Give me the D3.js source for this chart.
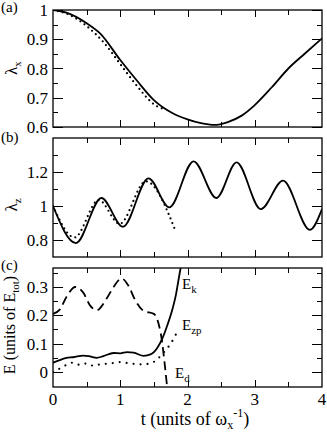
<!DOCTYPE html>
<html>
<head>
<meta charset="utf-8">
<script src="https://cdn.jsdelivr.net/npm/d3@7"></script>
<style>
  body { margin: 0; background: #fff; }
  svg { display: block; font-family: "Liberation Serif", "Times New Roman", serif; }
</style>
</head>
<body>
<svg id="chart" width="327" height="434"></svg>
<script>
// panel (a): lambda_x
const tLxSolid = [0, 0.2, 0.5, 0.7, 1.0, 1.25, 1.5, 1.78, 2.0, 2.2, 2.4, 2.6, 2.8, 3.0, 3.25, 3.5, 3.75, 4.0];
const lxSolid = [1.0, 0.991, 0.955, 0.92, 0.829, 0.758, 0.692, 0.647, 0.626, 0.613, 0.607, 0.617, 0.638, 0.675, 0.735, 0.8, 0.852, 0.903];
const tLxDot = [0, 0.25, 0.5, 0.75, 1.0, 1.25, 1.5, 1.6, 1.68];
const lxDot = [1.0, 0.983, 0.945, 0.89, 0.815, 0.74, 0.678, 0.665, 0.662];

// panel (b): lambda_z
const tLzSolid = [0, 0.34, 0.72, 1.04, 1.42, 1.73, 2.09, 2.43, 2.73, 3.09, 3.42, 3.82, 4.0];
const lzSolid = [1.0, 0.782, 1.047, 0.878, 1.163, 0.992, 1.263, 1.047, 1.257, 0.982, 1.149, 0.86, 0.982];
const tLzDot = [0, 0.32, 0.68, 0.99, 1.38, 1.82];
const lzDot = [1.0, 0.815, 1.035, 0.895, 1.145, 0.855];

// panel (c): energies
const tEk = [0, 0.1, 0.2, 0.3, 0.45, 0.55, 0.65, 0.75, 0.9, 1.0, 1.1, 1.2, 1.35, 1.45, 1.55, 1.62, 1.7, 1.78, 1.83, 1.87, 1.9];
const eK = [0.033, 0.042, 0.05, 0.052, 0.058, 0.055, 0.05, 0.056, 0.067, 0.066, 0.07, 0.068, 0.057, 0.062, 0.085, 0.115, 0.165, 0.225, 0.275, 0.33, 0.37];
const tEd = [0, 0.1, 0.2, 0.33, 0.45, 0.55, 0.65, 0.8, 0.9, 1.02, 1.12, 1.22, 1.35, 1.5, 1.57, 1.62, 1.66, 1.7];
const eD = [0.205, 0.22, 0.265, 0.3, 0.28, 0.235, 0.218, 0.26, 0.3, 0.33, 0.305, 0.255, 0.215, 0.205, 0.17, 0.11, 0.03, -0.06];
const tEzp = [0, 0.1, 0.2, 0.3, 0.4, 0.5, 0.6, 0.7, 0.85, 1.0, 1.15, 1.3, 1.45, 1.55, 1.65, 1.75, 1.86];
const eZp = [0.0, 0.012, 0.025, 0.033, 0.025, 0.03, 0.022, 0.027, 0.03, 0.035, 0.03, 0.027, 0.03, 0.045, 0.07, 0.1, 0.148];

// tick labels
const xTicks = [0, 1, 2, 3, 4];
const lxTicks = [0.6, 0.7, 0.8, 0.9, 1];
const lzTicks = [0.8, 1, 1.2];
const eTicks = [0, 0.1, 0.2, 0.3];

const svg = d3.select('#chart');
const margin = { left: 53, right: 322 };
const x = d3.scaleLinear().domain([0, 4]).range([margin.left, margin.right]);
const pts = (ts, vs) => ts.map((t, i) => [t, vs[i]]);

const panels = [
  { id: 'a', label: '(a)', top: 10, bottom: 127, domain: [0.6, 1], major: lxTicks, minor: d3.range(0.65, 1, 0.1),
    fmt: d => (d === 1 ? '1' : d3.format('.1f')(d)), labelY: 12 },
  { id: 'b', label: '(b)', top: 138, bottom: 257, domain: [0.7, 1.4], major: lzTicks, minor: [0.9, 1.1, 1.3],
    fmt: d => (d === 1 ? '1' : d3.format('.1f')(d)), labelY: 142 },
  { id: 'c', label: '(c)', top: 268, bottom: 387, domain: [-0.053, 0.367], major: eTicks, minor: [0.05, 0.15, 0.25, 0.35],
    fmt: d => (d === 0 ? '0' : d3.format('.1f')(d)), labelY: 270 },
];

panels.forEach((p) => {
  p.y = d3.scaleLinear().domain(p.domain).range([p.bottom, p.top]);
  const g = svg.append('g').attr('class', `panel-${p.id}`);

  g.append('clipPath').attr('id', `clip-${p.id}`)
    .append('rect').attr('x', margin.left).attr('y', p.top)
    .attr('width', margin.right - margin.left).attr('height', p.bottom - p.top);

  // frame
  g.append('rect')
    .attr('x', margin.left).attr('y', p.top)
    .attr('width', margin.right - margin.left).attr('height', p.bottom - p.top)
    .attr('fill', 'none').attr('stroke', '#000').attr('stroke-width', 1.3);

  // y ticks (inward, both sides)
  const ty = (vals, len) => vals.forEach((v) => {
    const yy = Math.round(p.y(v)) + 0.5;
    g.append('line').attr('x1', margin.left).attr('x2', margin.left + len).attr('y1', yy).attr('y2', yy)
      .attr('stroke', '#000').attr('stroke-width', 1);
    g.append('line').attr('x1', margin.right).attr('x2', margin.right - len).attr('y1', yy).attr('y2', yy)
      .attr('stroke', '#000').attr('stroke-width', 1);
  });
  ty(p.major, 10);
  ty(p.minor, 5);

  // x ticks (inward, top and bottom)
  const tx = (vals, len) => vals.forEach((v) => {
    const xx = Math.round(x(v)) + 0.5;
    g.append('line').attr('x1', xx).attr('x2', xx).attr('y1', p.bottom).attr('y2', p.bottom - len)
      .attr('stroke', '#000').attr('stroke-width', 1);
    g.append('line').attr('x1', xx).attr('x2', xx).attr('y1', p.top).attr('y2', p.top + len)
      .attr('stroke', '#000').attr('stroke-width', 1);
  });
  tx([1, 2, 3], 7);
  tx([0.5, 1.5, 2.5, 3.5], 5);

  // y tick labels
  g.selectAll('text.ytick').data(p.major).enter().append('text')
    .attr('class', 'ytick')
    .attr('x', margin.left - 5).attr('y', d => p.y(d) + 6)
    .attr('text-anchor', 'end').attr('font-size', 17)
    .text(p.fmt);

  // panel label
  g.append('text').attr('x', 1).attr('y', p.labelY).attr('font-size', 15).text(p.label);
});

const [pa, pb, pc] = panels;

const drawLine = (p, data, style) => {
  const line = d3.line().x(d => x(d[0])).y(d => p.y(d[1])).curve(d3.curveMonotoneX);
  const path = svg.append('path')
    .attr('clip-path', `url(#clip-${p.id})`)
    .attr('d', line(data))
    .attr('fill', 'none').attr('stroke', '#000');
  if (style === 'solid') path.attr('stroke-width', 1.8);
  if (style === 'dot') path.attr('stroke-width', 2.2).attr('stroke-linecap', 'round').attr('stroke-dasharray', '0 5');
  if (style === 'dotwide') path.attr('stroke-width', 2.2).attr('stroke-linecap', 'round').attr('stroke-dasharray', '0 7');
  if (style === 'dash') path.attr('stroke-width', 1.8).attr('stroke-dasharray', '9 5');
  return path;
};

drawLine(pa, pts(tLxSolid, lxSolid), 'solid');
drawLine(pa, pts(tLxDot, lxDot), 'dot');
drawLine(pb, pts(tLzSolid, lzSolid), 'solid');
drawLine(pb, pts(tLzDot, lzDot), 'dot');
drawLine(pc, pts(tEk, eK), 'solid');
drawLine(pc, pts(tEd, eD), 'dash');
drawLine(pc, pts(tEzp, eZp), 'dotwide');

// x tick labels under panel (c)
svg.selectAll('text.xtick').data(xTicks).enter().append('text')
  .attr('class', 'xtick')
  .attr('x', d => x(d)).attr('y', 405)
  .attr('text-anchor', 'middle').attr('font-size', 17)
  .text(d => d);

// curve labels
const subLabel = (xx, yy, sub) => {
  const t = svg.append('text').attr('x', xx).attr('y', yy).attr('font-size', 15);
  t.append('tspan').text('E');
  t.append('tspan').attr('dy', 4).attr('font-size', 11).text(sub);
};
subLabel(182, 289, 'k');
subLabel(182, 330, 'zp');
subLabel(175, 378, 'd');

// axis titles
const yTitle = (cy, build) => {
  const t = svg.append('text').attr('transform', `translate(17,${cy}) rotate(-90)`)
    .attr('text-anchor', 'middle').attr('font-size', 17);
  build(t);
};
yTitle(68, (t) => {
  t.append('tspan').text('λ');
  t.append('tspan').attr('dy', 4).attr('font-size', 11).text('x');
});
yTitle(205, (t) => {
  t.append('tspan').text('λ');
  t.append('tspan').attr('dy', 4).attr('font-size', 11).text('z');
});
const eTitle = svg.append('text').attr('transform', 'translate(15,325) rotate(-90)')
  .attr('text-anchor', 'middle').attr('font-size', 16);
eTitle.append('tspan').text('E (units of E');
eTitle.append('tspan').attr('dy', 4).attr('font-size', 11).text('tot');
eTitle.append('tspan').attr('dy', -4).text(')');

const xTitle = svg.append('text').attr('x', 195).attr('y', 425)
  .attr('text-anchor', 'middle').attr('font-size', 18);
xTitle.append('tspan').text('t (units of ω');
xTitle.append('tspan').attr('dy', 4).attr('font-size', 12).text('x');
xTitle.append('tspan').attr('dy', -12).attr('font-size', 12).text('-1');
xTitle.append('tspan').attr('dy', 8).text(')');
</script>
</body>
</html>
